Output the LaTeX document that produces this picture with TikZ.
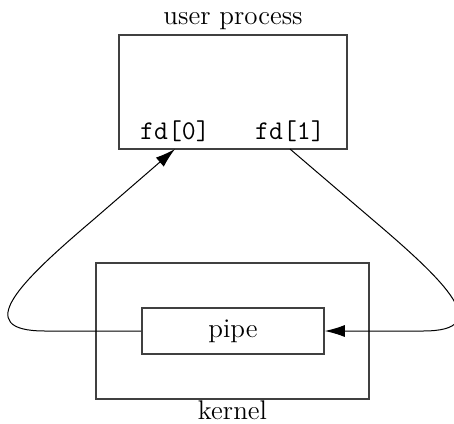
\documentclass[tikz,border=0pt]{standalone}
\usetikzlibrary{arrows.meta}
\begin{document}
\begin{tikzpicture}[x=0.5pt,y=-0.5pt,
    box/.style={draw=black!75,line width=0.8pt,inner sep=0pt},
    fdlabel/.style={font=\fontsize{13.5}{16}\ttfamily,anchor=south,inner sep=3.5pt},
    flow/.style={line width=0.5pt,-{Latex[length=10pt,width=6pt]}}]
    \useasboundingbox (0,0) rectangle (454,423);
    \node[box,minimum width=114pt,minimum height=57pt] (proc) at (233,92) {};
    \node[anchor=south,font=\fontsize{13.5}{16}\selectfont,inner sep=2pt] at (proc.north) {user process};
    \node[fdlabel] (fd0) at (175,149) {fd[0]};
    \node[fdlabel] (fd1) at (290,149) {fd[1]};
    \node[box,minimum width=136.5pt,minimum height=68pt] (kern) at (232.5,331) {};
    \node[anchor=north,font=\fontsize{13.5}{16}\selectfont,inner sep=0.3pt] at (kern.south) {kernel};
    \node[box,fill=white,minimum width=91pt,minimum height=23pt,font=\fontsize{13.5}{16}\selectfont] (pipe) at (233,331) {pipe};
    \draw[flow] (pipe.west) -- (45,331) .. controls (-30,331) and (20,282) .. (93,220) -- (fd0.south);
    \draw[flow] (fd1.south) -- (373,220) .. controls (446,282) and (496,331) .. (423,331) -- (pipe.east);
\end{tikzpicture}
\end{document}
